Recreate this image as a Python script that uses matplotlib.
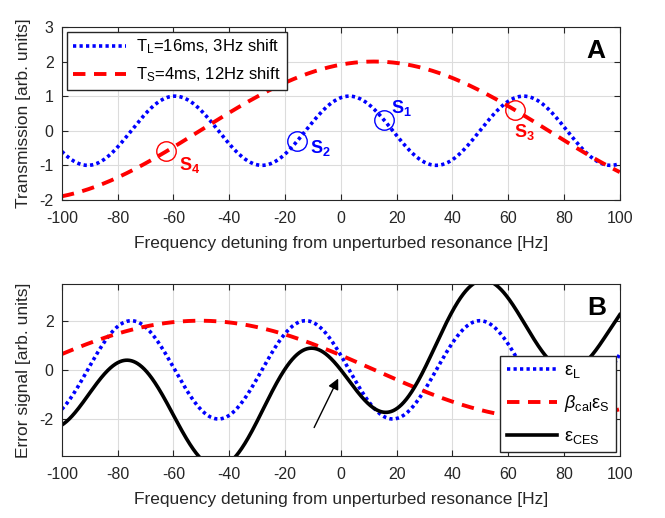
import matplotlib.pyplot as plt
import numpy as np

plt.rcParams['font.family'] = ['Liberation Sans', 'DejaVu Sans']
plt.rcParams['mathtext.fontset'] = 'custom'
plt.rcParams['mathtext.rm'] = 'Liberation Sans'
plt.rcParams['mathtext.it'] = 'Liberation Sans:italic'
plt.rcParams['mathtext.bf'] = 'Liberation Sans:bold'
plt.rcParams['axes.unicode_minus'] = False

# model parameters
T_L = 0.016      # s
T_S = 0.004      # s
shift_L = 3.0    # Hz
shift_S = 12.0   # Hz
amp_L = 1.0
amp_S = 2.0
err_L = 2.0
err_S = 2.0

# working points S1..S4 (detuning, which curve)
s_names = ['S_1', 'S_2', 'S_3', 'S_4']
s_freq = [15.6, -15.6, 62.5, -62.5]
s_curve = ['L', 'L', 'S', 'S']
s_text_x = [18, -11, 62, -58]
s_text_y = [0.65, -0.5, -0.05, -1.0]

f = np.linspace(-100, 100, 2001)


def trans_L(x):
    return amp_L * np.cos(2 * np.pi * T_L * (x - shift_L))


def trans_S(x):
    return amp_S * np.cos(2 * np.pi * T_S * (x - shift_S))


eps_L = -err_L * np.sin(2 * np.pi * T_L * (f - shift_L))
beps_S = -err_S * np.sin(2 * np.pi * T_S * (f - shift_S))
eps_CES = eps_L - beps_S

blue = '#0000ff'
red = '#ff0000'
dot = (0, (0.9, 0.9))
dash = (0, (3.2, 2.2))

fig = plt.figure(figsize=(6.65, 5.18), dpi=100)
axA = fig.add_axes([0.093, 0.614, 0.839, 0.334])
axB = fig.add_axes([0.093, 0.120, 0.839, 0.332])

axA.plot(f, trans_L(f), color=blue, lw=2.6, ls=dot,
         label=r'$\mathregular{T_L}$=16ms, 3Hz shift')
axA.plot(f, trans_S(f), color=red, lw=2.8, ls=dash,
         label=r'$\mathregular{T_S}$=4ms, 12Hz shift')

for name, fx, c, tx, ty in zip(s_names, s_freq, s_curve, s_text_x, s_text_y):
    col = blue if c == 'L' else red
    yv = trans_L(fx) if c == 'L' else trans_S(fx)
    axA.plot([fx], [yv], 'o', ms=14, mfc='none', mec=col, mew=1.0)
    axA.text(tx, ty, r'$\mathbf{%s}$' % name, color=col, fontsize=13,
             ha='left', va='center')

axA.set_ylim(-2, 3)
axA.set_yticks([-2, -1, 0, 1, 2, 3])
axA.set_ylabel('Transmission [arb. units]', fontsize=12.5, color='#262626',
               labelpad=6)
axA.text(0.975, 0.93, 'A', transform=axA.transAxes, fontsize=19,
         fontweight='bold', ha='right', va='top')
axA.legend(loc='upper left', fontsize=12, fancybox=False, framealpha=1,
           edgecolor='#262626', borderaxespad=0.3, handlelength=3.2,
           borderpad=0.35, labelspacing=0.55, handletextpad=0.6)

axB.plot(f, eps_L, color=blue, lw=2.6, ls=dot,
         label=r'$\mathregular{ε_L}$')
axB.plot(f, beps_S, color=red, lw=2.8, ls=dash,
         label=r'$\mathit{β}_\mathregular{cal}\mathregular{ε_S}$')
axB.plot(f, eps_CES, color='black', lw=2.6,
         label=r'$\mathregular{ε_{CES}}$')
axB.annotate('', xy=(-0.5, -0.25), xytext=(-10, -2.45),
             arrowprops=dict(arrowstyle='-|>', color='black', lw=1.0,
                             mutation_scale=16))
axB.set_ylim(-3.5, 3.5)
axB.set_yticks([-2, 0, 2])
axB.set_ylabel('Error signal [arb. units]', fontsize=12.5, color='#262626',
               labelpad=6)
axB.text(0.975, 0.93, 'B', transform=axB.transAxes, fontsize=19,
         fontweight='bold', ha='right', va='top')
axB.legend(loc='lower right', fontsize=13, fancybox=False, framealpha=1,
           edgecolor='#262626', borderaxespad=0.2, handlelength=2.8,
           borderpad=0.35, labelspacing=0.75, handletextpad=0.4)

for ax in (axA, axB):
    ax.set_xlim(-100, 100)
    ax.set_xticks(np.arange(-100, 101, 20))
    ax.set_xlabel('Frequency detuning from unperturbed resonance [Hz]',
                  fontsize=12.5, color='#262626', labelpad=7)
    ax.grid(True, color='#dcdcdc', lw=0.8)
    ax.set_axisbelow(True)
    ax.tick_params(direction='in', top=True, right=True, labelsize=11.5,
                   colors='#262626', length=4)
    ax.tick_params(axis='x', pad=8)
    ax.tick_params(axis='y', pad=6)
    for sp in ax.spines.values():
        sp.set_color('#262626')

fig.savefig('out.png', dpi=100)
